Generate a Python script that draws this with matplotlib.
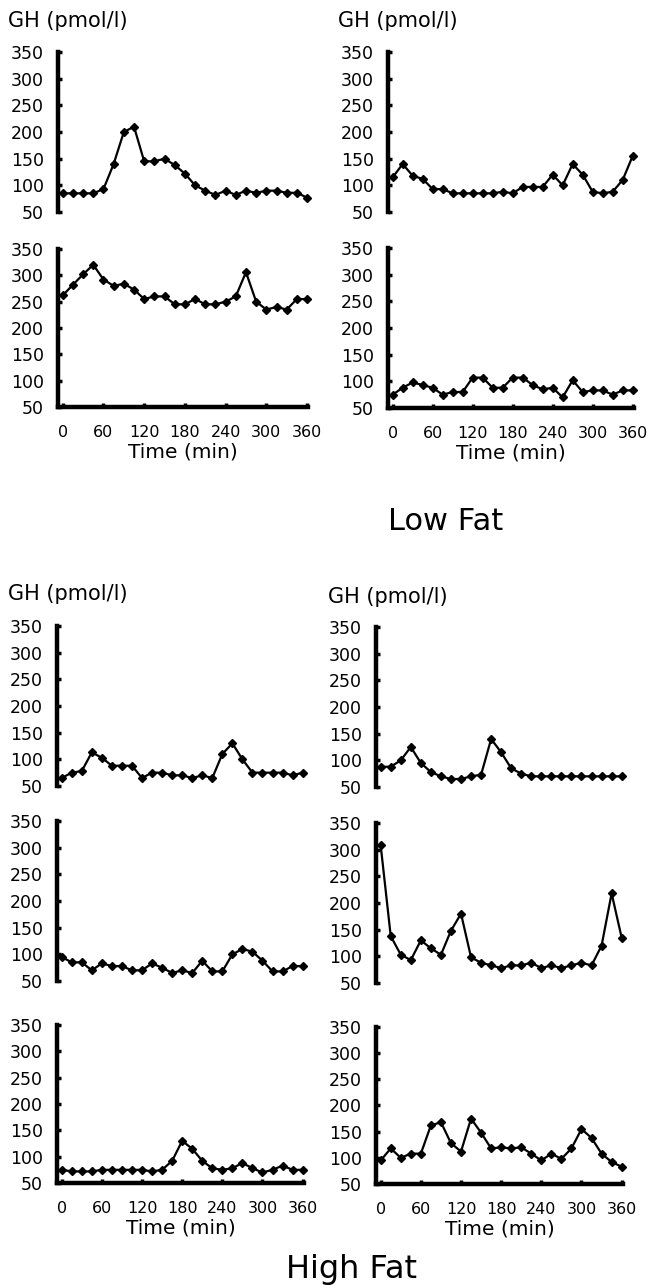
import matplotlib
matplotlib.use("Agg")
import matplotlib.pyplot as plt

plt.rcParams['font.family'] = ['DejaVu Sans']

time_min = list(range(0, 361, 15))
x_ticks = [0, 60, 120, 180, 240, 300, 360]
y_ticks = [50, 100, 150, 200, 250, 300, 350]

# Low fat
lf_top_left = [85, 85, 85, 85, 93, 140, 200, 210, 145, 145, 150, 138, 122, 100, 90, 82, 90, 82, 90, 86, 90, 90, 86, 86, 77]
lf_top_right = [115, 140, 118, 112, 93, 93, 85, 85, 85, 85, 85, 88, 85, 97, 97, 97, 120, 100, 140, 120, 88, 85, 88, 110, 155]
lf_bot_left = [262, 282, 302, 320, 292, 280, 284, 273, 255, 260, 260, 245, 245, 255, 245, 245, 250, 260, 306, 250, 235, 240, 235, 255, 255]
lf_bot_right = [75, 88, 98, 93, 88, 75, 80, 80, 107, 107, 88, 88, 107, 107, 93, 85, 88, 70, 102, 80, 83, 83, 75, 83, 83]

# High fat
hf_top_left = [65, 75, 78, 113, 103, 88, 88, 88, 65, 75, 75, 70, 70, 65, 70, 65, 110, 130, 100, 75, 75, 75, 75, 70, 75]
hf_top_right = [88, 88, 100, 125, 95, 78, 70, 65, 65, 70, 73, 140, 115, 85, 75, 70, 70, 70, 70, 70, 70, 70, 70, 70, 70]
hf_mid_left = [95, 85, 85, 70, 83, 78, 78, 70, 70, 83, 75, 65, 70, 65, 88, 68, 68, 100, 110, 105, 88, 68, 68, 78, 78]
hf_mid_right = [308, 138, 103, 93, 130, 115, 103, 148, 180, 98, 88, 83, 78, 83, 83, 88, 78, 83, 78, 83, 88, 83, 120, 218, 135]
hf_bot_left = [75, 72, 72, 72, 75, 75, 75, 75, 75, 72, 75, 92, 130, 115, 92, 78, 75, 78, 88, 78, 70, 75, 83, 75, 75]
hf_bot_right = [95, 118, 100, 108, 108, 162, 168, 128, 112, 175, 148, 118, 120, 118, 120, 108, 95, 108, 98, 118, 155, 138, 108, 92, 83]

W, H = 652, 1285
fig = plt.figure(figsize=(W / 100, H / 100), dpi=100)


def make_ax(L, R, T, B, values, bottom):
    ax = fig.add_axes([L / W, 1 - B / H, (R - L) / W, (B - T) / H])
    ax.plot(time_min, values, color='black', lw=1.6, marker='D', ms=4.2,
            mfc='black', mec='black', clip_on=False, zorder=3)
    ax.set_xlim(-7, 362)
    ax.set_ylim(50, 350)
    ax.set_yticks(y_ticks)
    for s in ['top', 'right']:
        ax.spines[s].set_visible(False)
    ax.spines['left'].set_linewidth(3.2)
    ax.tick_params(axis='y', direction='in', length=3, width=2.5, pad=10,
                   labelsize=12.5)
    if bottom:
        ax.spines['bottom'].set_linewidth(3.2)
        ax.set_xticks(x_ticks)
        ax.tick_params(axis='x', direction='in', length=3, width=2.5, pad=13,
                       labelsize=11.5)
        ax.set_xlabel('Time (min)', fontsize=14.5, labelpad=2)
    else:
        ax.spines['bottom'].set_visible(False)
        ax.set_xticks([])
    ax.patch.set_alpha(0)
    return ax


# Low Fat panels
make_ax(58, 308.4, 52, 212, lf_top_left, False)
make_ax(388, 634, 52, 212, lf_top_right, False)
make_ax(58, 308.4, 249, 407, lf_bot_left, True)
make_ax(388, 634, 248, 408, lf_bot_right, True)

# High Fat panels
make_ax(57, 304, 626, 786, hf_top_left, False)
make_ax(376, 623, 627, 787, hf_top_right, False)
make_ax(57, 304, 821, 981, hf_mid_left, False)
make_ax(376, 623, 823, 983, hf_mid_right, False)
make_ax(57, 304, 1025, 1183, hf_bot_left, True)
make_ax(376, 623, 1027, 1184, hf_bot_right, True)


def ftext(x, y, s, **kw):
    fig.text(x / W, 1 - y / H, s, **kw)


ftext(8, 27, 'GH (pmol/l)', fontsize=15, va='baseline', ha='left')
ftext(338, 27, 'GH (pmol/l)', fontsize=15, va='baseline', ha='left')
ftext(8, 600, 'GH (pmol/l)', fontsize=15, va='baseline', ha='left')
ftext(328, 603, 'GH (pmol/l)', fontsize=15, va='baseline', ha='left')

ftext(446, 530, 'Low Fat', fontsize=22, va='baseline', ha='center')
ftext(352, 1278, 'High Fat', fontsize=23, va='baseline', ha='center')

fig.savefig('out.png', dpi=100)
